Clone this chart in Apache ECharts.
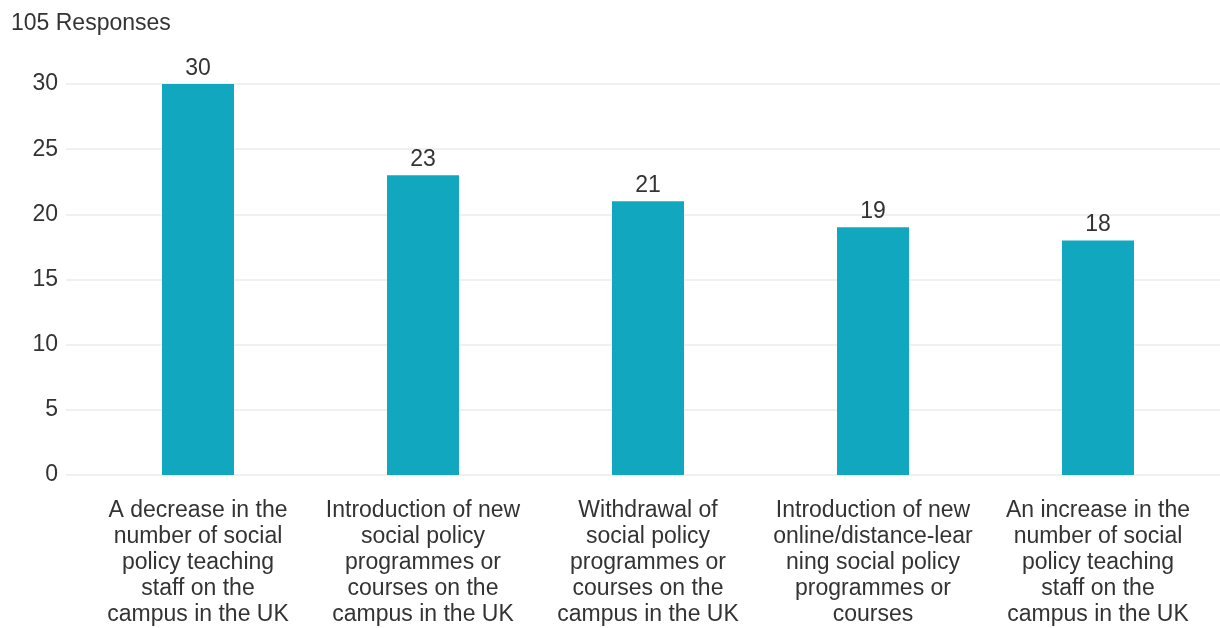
<!DOCTYPE html>
<html>
<head>
<meta charset="utf-8">
<script src="https://cdn.jsdelivr.net/npm/echarts@6/dist/echarts.min.js"></script>
<style>
  html, body { margin: 0; padding: 0; background: #fff; }
  #chart { width: 1220px; height: 628px; }
</style>
</head>
<body>
<div id="chart"></div>
<script>
// Survey answers, one bar per option
const categories = [
  'A decrease in the\nnumber of social\npolicy teaching\nstaff on the\ncampus in the UK',
  'Introduction of new\nsocial policy\nprogrammes or\ncourses on the\ncampus in the UK',
  'Withdrawal of\nsocial policy\nprogrammes or\ncourses on the\ncampus in the UK',
  'Introduction of new\nonline/distance-lear\nning social policy\nprogrammes or\ncourses',
  'An increase in the\nnumber of social\npolicy teaching\nstaff on the\ncampus in the UK'
];
const responses = [30, 23, 21, 19, 18];
const yTicks = { min: 0, max: 30, interval: 5 };
const titleText = '105 Responses';

const font = 'Liberation Sans, Arial, sans-serif';
const textColor = '#333333';
const fontSize = 23;

const chart = echarts.init(document.getElementById('chart'), null, { renderer: 'canvas' });
chart.setOption({
  backgroundColor: '#ffffff',
  animation: false,
  title: {
    text: titleText,
    left: 6, top: 7,
    textStyle: { fontFamily: font, fontSize: fontSize, fontWeight: 'normal', color: textColor }
  },
  grid: [
    // full-width grid carrying the value axis and its gridlines
    { left: 66, right: 0, top: 84, height: 391 },
    // bar grid, inset so the categories sit where they belong
    { left: 85.5, width: 1125, top: 84, height: 391 }
  ],
  xAxis: [
    { gridIndex: 0, type: 'value', show: false, min: 0, max: 1 },
    {
      gridIndex: 1,
      type: 'category',
      data: categories,
      axisLine: { show: false },
      axisTick: { show: false },
      axisLabel: {
        interval: 0,
        margin: 23,
        fontFamily: font,
        fontSize: fontSize,
        lineHeight: 26,
        color: textColor,
        align: 'center'
      }
    }
  ],
  yAxis: [
    {
      gridIndex: 0,
      type: 'value',
      min: yTicks.min, max: yTicks.max, interval: yTicks.interval,
      axisLine: { show: false },
      axisTick: { show: false },
      axisLabel: { margin: 8, padding: [3, 0, 0, 0], fontFamily: font, fontSize: fontSize, color: textColor },
      splitLine: { lineStyle: { color: '#ebebeb', width: 1.5 } }
    },
    {
      gridIndex: 1,
      type: 'value',
      min: yTicks.min, max: yTicks.max, interval: yTicks.interval,
      show: false,
      splitLine: { show: false }
    }
  ],
  series: [{
    type: 'bar',
    xAxisIndex: 1,
    yAxisIndex: 1,
    data: responses,
    barWidth: 72,
    itemStyle: { color: '#11a8bf' },
    label: {
      show: true,
      position: 'top',
      distance: 4,
      fontFamily: font,
      fontSize: fontSize,
      color: textColor
    }
  }]
});
</script>
</body>
</html>
